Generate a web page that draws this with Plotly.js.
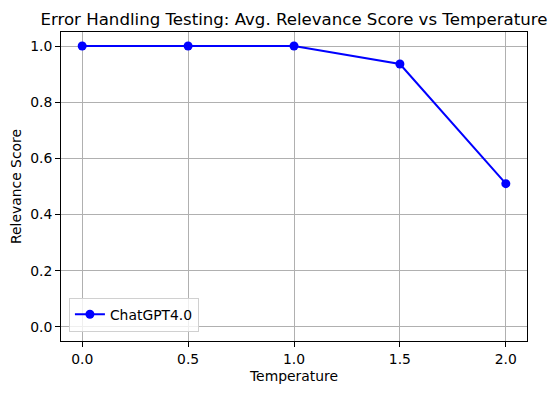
<!DOCTYPE html>
<html>
<head>
<meta charset="utf-8">
<script src="https://cdn.plot.ly/plotly-3.0.1.min.js"></script>
<style>html,body{margin:0;padding:0;background:#fff;}#chart{width:557px;height:393px;}</style>
</head>
<body>
<div id="chart"></div>
<script>
const temperatures = [0.0, 0.5, 1.0, 1.5, 2.0];
const relevanceScores = [1.0, 1.0, 1.0, 0.936, 0.51];
const seriesName = "ChatGPT4.0";
const xTicks = [0.0, 0.5, 1.0, 1.5, 2.0];
const yTicks = [0.0, 0.2, 0.4, 0.6, 0.8, 1.0];

const font = "DejaVu Sans, sans-serif";
const trace = {
  x: temperatures,
  y: relevanceScores,
  name: seriesName,
  type: "scatter",
  mode: "lines+markers",
  line: {color: "#0000ff", width: 2},
  marker: {color: "#0000ff", size: 9},
  showlegend: true
};
const axisCommon = {
  showgrid: true, gridcolor: "#b0b0b0", gridwidth: 1,
  zeroline: false,
  showline: true, linecolor: "#000", linewidth: 1, mirror: true,
  ticks: "outside", ticklen: 5, tickwidth: 1, tickcolor: "#000",
  tickfont: {family: font, size: 13.9, color: "#000"},
  tickformat: ".1f"
};
const layout = {
  width: 557, height: 393,
  margin: {l: 61, r: 30, t: 32, b: 52},
  paper_bgcolor: "#fff", plot_bgcolor: "#fff",
  font: {family: font, color: "#000"},
  title: {text: "Error Handling Testing: Avg. Relevance Score vs Temperature",
          font: {family: font, size: 16.6, color: "#000"},
          x: 0.5, xanchor: "center", xref: "paper",
          y: 0.952, yanchor: "middle", yref: "container"},
  xaxis: Object.assign({}, axisCommon, {
    range: [-0.1, 2.1], tickvals: xTicks,
    title: {text: "Temperature", font: {family: font, size: 13.9, color: "#000"}, standoff: 5}
  }),
  yaxis: Object.assign({}, axisCommon, {
    range: [-0.05, 1.05], tickvals: yTicks,
    title: {text: "Relevance Score", font: {family: font, size: 13.9, color: "#000"}, standoff: 5}
  }),
  legend: {
    x: 0.017, y: 0.03, xanchor: "left", yanchor: "bottom",
    bgcolor: "rgba(255,255,255,0.8)", bordercolor: "#d0d0d0", borderwidth: 1,
    font: {family: font, size: 13.9, color: "#000"}
  }
};
Plotly.newPlot("chart", [trace], layout, {displayModeBar: false, staticPlot: true});
</script>
</body>
</html>
